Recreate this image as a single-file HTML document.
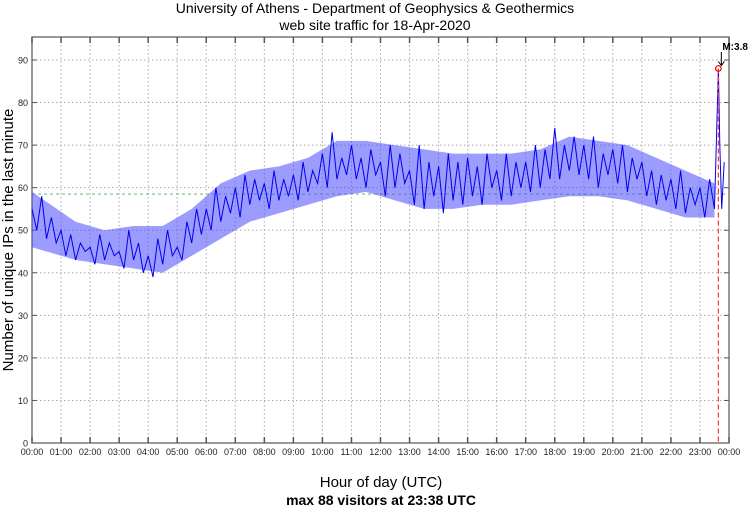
<!DOCTYPE html>
<html><head><meta charset="utf-8"><style>
body{margin:0;background:#fff}
svg{display:block;font-family:"Liberation Sans",sans-serif}
</style></head><body>
<svg id="c" width="750" height="508">
<text x="375" y="13" font-size="14" text-anchor="middle">University of Athens - Department of Geophysics &amp; Geothermics</text>
<text x="375" y="30" font-size="14" text-anchor="middle">web site traffic for 18-Apr-2020</text>
<text transform="translate(13,240) rotate(-90)" font-size="15" text-anchor="middle">Number of unique IPs in the last minute</text>
<text x="381" y="487" font-size="15" text-anchor="middle">Hour of day (UTC)</text>
<text x="381" y="505" font-size="14" font-weight="bold" text-anchor="middle">max 88 visitors at 23:38 UTC</text>
<g id="grid"></g><g id="marks"></g>
</svg>
<script>
const yTicks=[0,10,20,30,40,50,60,70,80,90];
const hourLabels=["00:00","01:00","02:00","03:00","04:00","05:00","06:00","07:00","08:00","09:00","10:00","11:00","12:00","13:00","14:00","15:00","16:00","17:00","18:00","19:00","20:00","21:00","22:00","23:00","00:00"];
const values=[
55,50,58,48,53,47, 50,44,49,43,47,45, 46,42,49,43,47,44, 45,41,50,43,47,40,
44,39,48,42,50,44, 46,43,52,47,55,49, 55,50,60,52,58,54, 60,53,63,56,62,57,
61,55,64,57,62,58, 63,57,66,59,64,61, 68,60,73,62,67,63, 70,62,67,60,69,63,
66,58,70,60,68,61, 64,56,70,55,66,58, 65,54,68,57,66,56, 67,58,65,56,68,60,
64,57,68,58,66,60, 66,59,70,60,69,62, 74,62,70,64,72,63, 70,62,72,60,68,63,
69,61,70,59,67,62, 66,58,64,56,63,57, 62,55,64,54,60,56, 60,53,62,55];
const bandHi=[59,52,50,51,51,55,61,64,65,67,71,71,70,69,68,68,68,69,72,71,70,67,64,61];
const bandLo=[46,43,42,41,40,44,48,52,54,56,58,59,57,55,55,56,56,57,58,58,57,55,53,53];
const tailTimes=[1418,1421,1425,1430];
const tailValues=[88,70,55,66];
const maxTime=1418, maxValue=88, meanValue=58.5;
const L=32,R=729,T=37,B=443;
const X=m=>L+m/1440*(R-L), Y=v=>B-v*(B-60)/90;
const NS="http://www.w3.org/2000/svg";
const grid=document.getElementById('grid'),marks=document.getElementById('marks');
function mk(p,tag,a){const e=document.createElementNS(NS,tag);for(const k in a)e.setAttribute(k,a[k]);p.appendChild(e);return e;}
let e=mk(grid,'rect',{x:L,y:T,width:R-L,height:B-T,fill:'none',stroke:'#555','stroke-width':1.2});


yTicks.forEach(v=>{const y=Y(v);
 if(v>0){e=mk(grid,'line',{x1:L,x2:R,y1:y,y2:y,stroke:'#aaa','stroke-dasharray':'1.5,2.5'});
 
 }
 mk(grid,'line',{x1:L,x2:L+5,y1:y,y2:y,stroke:'#555'});mk(grid,'line',{x1:R-5,x2:R,y1:y,y2:y,stroke:'#555'});
 e=mk(grid,'text',{x:L-4,y:y+3.5,'font-size':9,'text-anchor':'end',fill:'#222'});e.textContent=v;
 
 
});
hourLabels.forEach((t,i)=>{const x=X(i*60);
 if(i>0&&i<24){e=mk(grid,'line',{x1:x,x2:x,y1:T,y2:B,stroke:'#aaa','stroke-dasharray':'1.5,2.5'});
 
 }
 mk(grid,'line',{x1:x,x2:x,y1:B-6,y2:B,stroke:'#555','stroke-width':1.5});mk(grid,'line',{x1:x,x2:x,y1:T,y2:T+6,stroke:'#555','stroke-width':1.5});
 e=mk(grid,'text',{x:x,y:B+12,'font-size':9,'text-anchor':'middle',fill:'#222'});e.textContent=t;
 
 
});
e=mk(marks,'line',{x1:L,x2:R,y1:Y(meanValue),y2:Y(meanValue),stroke:'#5a5','stroke-dasharray':'3,3','stroke-width':0.8});


// envelope band
const up=bandHi.map((v,i)=>X(i*60+(i==0?0:30)).toFixed(1)+','+Y(v).toFixed(1));
up.push(X(1410).toFixed(1)+','+Y(bandHi[23]).toFixed(1));
const dn=bandLo.map((v,i)=>X(i*60+(i==0?0:30)).toFixed(1)+','+Y(v).toFixed(1));
dn.push(X(1410).toFixed(1)+','+Y(bandLo[23]).toFixed(1));
e=mk(marks,'polygon',{points:up.concat(dn.reverse()).join(' '),fill:'#4a4aff','fill-opacity':0.55});


let pts=values.map((v,i)=>X(i*10).toFixed(1)+','+Y(v).toFixed(1));
tailTimes.forEach((t,i)=>pts.push(X(t).toFixed(1)+','+Y(tailValues[i]).toFixed(1)));
e=mk(marks,'polyline',{points:pts.join(' '),fill:'none',stroke:'#0000ee','stroke-width':1});


e=mk(marks,'line',{x1:X(maxTime),x2:X(maxTime),y1:Y(maxValue),y2:B,stroke:'#f33','stroke-dasharray':'5,3','stroke-width':1.2});


e=mk(marks,'circle',{cx:X(maxTime),cy:Y(maxValue),r:2.8,fill:'none',stroke:'#e00','stroke-width':1.2});


e=mk(marks,'path',{d:`M${X(maxTime)+3},52 V${Y(maxValue)-4} M${X(maxTime)},${Y(maxValue)-7} L${X(maxTime)+3},${Y(maxValue)-3} L${X(maxTime)+6},${Y(maxValue)-7}`,fill:'none',stroke:'#000','stroke-width':1});


e=mk(marks,'text',{x:X(maxTime)+4,y:50,'font-size':10,'font-weight':'bold'});e.textContent='M:3.8';


</script>
</body></html>
